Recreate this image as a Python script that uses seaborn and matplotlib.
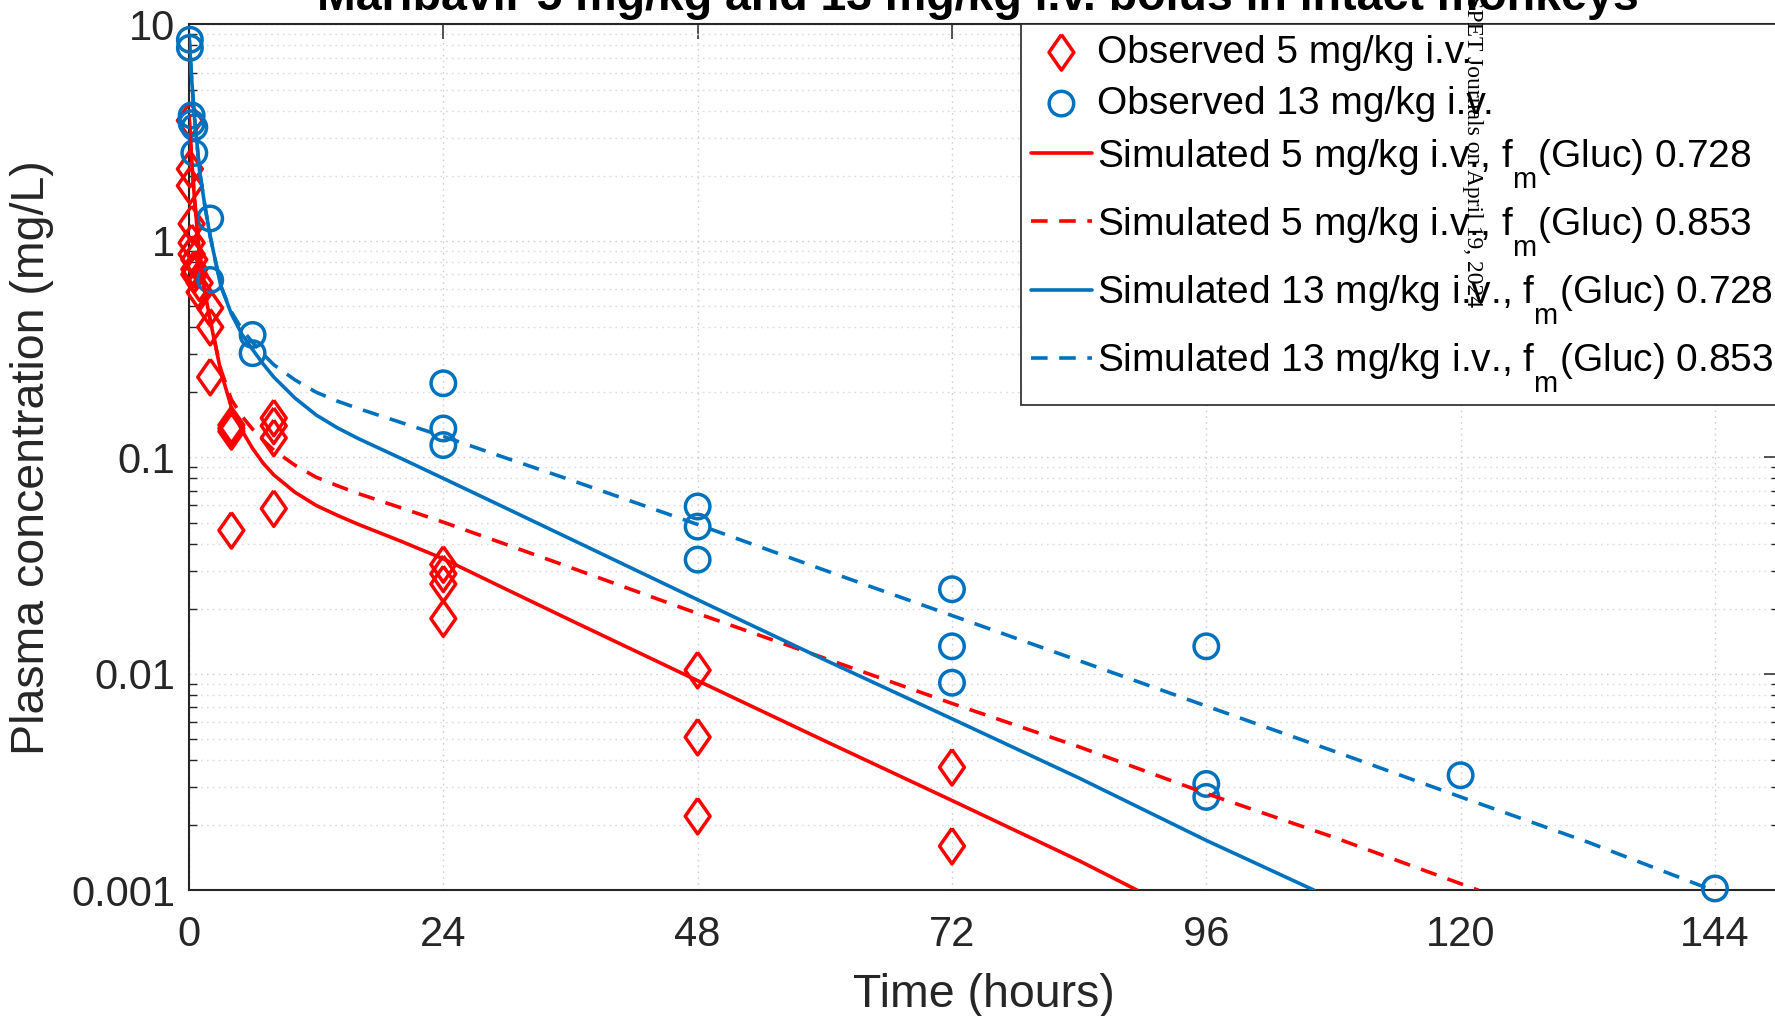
import numpy as np
import pandas as pd
import matplotlib
matplotlib.use("Agg")
import matplotlib.pyplot as plt
import seaborn as sns
from matplotlib.ticker import LogLocator, FixedLocator, NullFormatter, FixedFormatter

try:
    import matplotlib._mathtext as _mt
    _mt.SHRINK_FACTOR = 0.75
    _mt.FontConstantsBase.sub1 = 1.0
except Exception:
    pass

# ---------------- data ----------------
obs5_time = [0.083, 0.083, 0.083, 0.25, 0.25, 0.25, 0.5, 0.5, 0.5, 1, 1, 2, 2, 2,
             4, 4, 4, 4, 8, 8, 8, 8, 24, 24, 24, 24, 48, 48, 48, 72, 72]
obs5_conc = [3.6, 2.15, 1.8, 1.2, 0.98, 0.87, 0.82, 0.74, 0.70, 0.64, 0.58, 0.49, 0.40, 0.235,
             0.141, 0.136, 0.132, 0.046, 0.152, 0.140, 0.123, 0.058,
             0.032, 0.029, 0.026, 0.018, 0.0104, 0.0051, 0.0022, 0.0037, 0.0016]

obs13_time = [0.083, 0.083, 0.25, 0.25, 0.5, 0.5, 2, 2, 6, 6, 24, 24, 24,
              48, 48, 48, 72, 72, 72, 96, 96, 96, 120, 144]
obs13_conc = [8.5, 7.8, 3.8, 3.5, 3.35, 2.55, 1.27, 0.66, 0.368, 0.303, 0.220, 0.136, 0.114,
              0.0593, 0.0479, 0.0337, 0.0246, 0.0134, 0.0091, 0.0134, 0.0031, 0.0027, 0.0034, 0.00102]

sim5_a_time = [0, 0.25, 0.5, 1, 1.5, 2, 3, 4, 5, 6, 7, 8, 10, 12, 14, 16, 20, 24, 30, 36,
               48, 60, 72, 84, 89.5]
sim5_a_conc = [3.8, 2.4, 1.6, 0.85, 0.58, 0.43, 0.25, 0.17, 0.133, 0.11, 0.094, 0.083, 0.069,
               0.06, 0.054, 0.049, 0.041, 0.034, 0.0245, 0.0177, 0.0093, 0.0049, 0.0026,
               0.00137, 0.001]

sim5_b_time = [0, 0.25, 0.5, 1, 1.5, 2, 3, 4, 5, 6, 7, 8, 10, 12, 14, 16, 20, 24, 30, 36,
               48, 60, 72, 84, 96, 108, 121.7]
sim5_b_conc = [3.8, 2.4, 1.6, 0.85, 0.58, 0.43, 0.255, 0.185, 0.155, 0.135, 0.12, 0.108, 0.092,
               0.081, 0.074, 0.068, 0.0585, 0.0502, 0.0395, 0.031, 0.019, 0.0118, 0.0073,
               0.0046, 0.0028, 0.00176, 0.001]

sim13_a_time = [0, 0.25, 0.5, 1, 1.5, 2, 3, 4, 5, 6, 7, 8, 10, 12, 14, 16, 20, 24, 30, 36,
                48, 60, 72, 84, 96, 106.2]
sim13_a_conc = [9.0, 5.6, 3.8, 2.1, 1.45, 1.05, 0.62, 0.46, 0.37, 0.315, 0.27, 0.235, 0.188,
                0.157, 0.137, 0.122, 0.099, 0.08, 0.058, 0.042, 0.022, 0.0116, 0.0062, 0.0033,
                0.0017, 0.001]

sim13_b_time = [0, 0.25, 0.5, 1, 1.5, 2, 3, 4, 5, 6, 7, 8, 10, 12, 14, 16, 20, 24, 30, 36,
                48, 60, 72, 84, 96, 108, 120, 132, 143.8]
sim13_b_conc = [9.0, 5.6, 3.8, 2.1, 1.45, 1.05, 0.62, 0.47, 0.39, 0.34, 0.3, 0.268, 0.228, 0.2,
                0.182, 0.168, 0.145, 0.125, 0.099, 0.0787, 0.049, 0.0301, 0.0186, 0.0115,
                0.0071, 0.0044, 0.0027, 0.00167, 0.001]

x_ticks = [0, 24, 48, 72, 96, 120, 144]
y_ticks = [0.001, 0.01, 0.1, 1, 10]
y_tick_labels = ["0.001", "0.01", "0.1", "1", "10"]

labels = ["Observed 5 mg/kg i.v.",
          "Observed 13 mg/kg i.v.",
          "Simulated 5 mg/kg i.v., f$_{\\mathrm{m}}$(Gluc) 0.728",
          "Simulated 5 mg/kg i.v., f$_{\\mathrm{m}}$(Gluc) 0.853",
          "Simulated 13 mg/kg i.v., f$_{\\mathrm{m}}$(Gluc) 0.728",
          "Simulated 13 mg/kg i.v., f$_{\\mathrm{m}}$(Gluc) 0.853"]
title = "Maribavir 5 mg/kg and 13 mg/kg i.v. bolus in intact monkeys"
watermark = "Downloaded from jpet.aspetjournals.org at ASPET Journals on April 19, 2024"

RED = "#FF0000"
BLUE = "#0072BD"
AXC = "#262626"

# ---------------- style ----------------
sns.set_style("white")
plt.rcParams['font.family'] = ['Liberation Sans', 'DejaVu Sans']
plt.rcParams['mathtext.fontset'] = 'custom'
plt.rcParams['mathtext.rm'] = 'Liberation Sans'
plt.rcParams['mathtext.it'] = 'Liberation Sans:italic'
plt.rcParams['mathtext.bf'] = 'Liberation Sans:bold'

fig = plt.figure(figsize=(17.75, 10.16), dpi=100)
ax = fig.add_axes([0.10648, 0.12372, 0.8955, 0.85217])
ax.set_yscale('log')

diamond = [(0, 1), (0.7, 0), (0, -1), (-0.7, 0), (0, 1)]

sns.scatterplot(x=obs5_time, y=obs5_conc, ax=ax, marker=diamond, s=655,
                facecolor='none', edgecolor=RED, linewidth=2.5, label=labels[0],
                clip_on=False, zorder=3)
sns.scatterplot(x=obs13_time, y=obs13_conc, ax=ax, marker='o', s=311,
                facecolor='none', edgecolor=BLUE, linewidth=2.5, label=labels[1],
                clip_on=False, zorder=3)

dash = (0, (4.6, 3.2))
sns.lineplot(x=sim5_a_time, y=sim5_a_conc, ax=ax, color=RED, linewidth=2.6,
             label=labels[2], zorder=4)
sns.lineplot(x=sim5_b_time, y=sim5_b_conc, ax=ax, color=RED, linewidth=2.6,
             linestyle=dash, label=labels[3], zorder=4)
sns.lineplot(x=sim13_a_time, y=sim13_a_conc, ax=ax, color=BLUE, linewidth=2.6,
             label=labels[4], zorder=4)
sns.lineplot(x=sim13_b_time, y=sim13_b_conc, ax=ax, color=BLUE, linewidth=2.6,
             linestyle=dash, label=labels[5], zorder=4)

ax.set_xlim(0, 150)
ax.set_ylim(0.001, 10)

ax.xaxis.set_major_locator(FixedLocator(x_ticks))
ax.yaxis.set_major_locator(FixedLocator(y_ticks))
ax.yaxis.set_major_formatter(FixedFormatter(y_tick_labels))
ax.yaxis.set_minor_locator(LogLocator(base=10, subs=np.arange(2, 10), numticks=20))
ax.yaxis.set_minor_formatter(NullFormatter())

ax.tick_params(axis='both', which='major', direction='in', length=11, width=1.1,
               color=AXC, labelsize=30, labelcolor=AXC, top=True, right=True)
ax.tick_params(axis='y', which='minor', direction='in', length=6, width=1.0,
               color=AXC, left=True, right=True)
ax.tick_params(axis='x', which='major', pad=18)
ax.tick_params(axis='y', which='major', pad=10)

for sp in ax.spines.values():
    sp.set_color(AXC)
    sp.set_linewidth(1.5)
    sp.set_visible(True)

ax.grid(True, which='major', axis='both', linestyle=(0, (1.2, 3)), color='#cfcfcf', linewidth=1.0)
ax.grid(True, which='minor', axis='y', linestyle=(0, (1.2, 3)), color='#dadada', linewidth=1.0)
ax.set_axisbelow(True)

ax.set_xlabel("Time (hours)", fontsize=33.5, color=AXC)
ax.set_ylabel("Plasma concentration (mg/L)", fontsize=33.5, color=AXC)
ax.xaxis.set_label_coords(0.5, -0.095)
ax.yaxis.set_label_coords(-0.085, 0.5)

handles, labs = ax.get_legend_handles_labels()
leg = ax.legend(handles, labs, loc='upper right', bbox_to_anchor=(1.003, 1), borderaxespad=0,
                fontsize=28, frameon=True, fancybox=False, framealpha=1, edgecolor=AXC,
                handlelength=1.58, handletextpad=0.12, borderpad=0.26, labelspacing=0.39,
                scatterpoints=1)
leg.get_frame().set_linewidth(1.2)
for t in leg.get_texts():
    t.set_color('black')

fig.text(0.551, 0.990, title, ha='center', va='baseline', fontsize=33.5,
         fontweight='bold', color='black')
fig.text(0.8293, 0.698, watermark, rotation=270, ha='center', va='bottom', fontsize=17,
         family=['Liberation Serif', 'DejaVu Serif'], color='black', zorder=10)

fig.savefig('out.png', dpi=100)
